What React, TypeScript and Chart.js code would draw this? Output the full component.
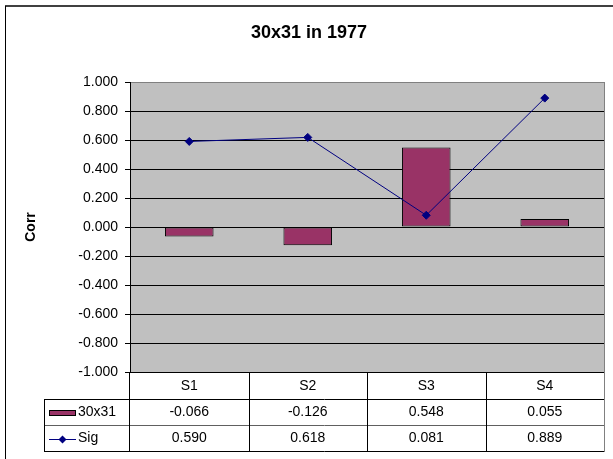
import React, { useEffect, useRef } from 'react';
import { Chart, registerables } from 'chart.js';

Chart.register(...registerables);

const chartTitle = '30x31 in 1977';
const yAxisTitle = 'Corr';
const categories = ['S1', 'S2', 'S3', 'S4'];
const seriesNames = ['30x31', 'Sig'];
const corrValues = [-0.066, -0.126, 0.548, 0.055];
const sigValues = [0.59, 0.618, 0.081, 0.889];
const yMin = -1;
const yMax = 1;
const yStep = 0.2;

const FONT = '"Liberation Sans", Arial, sans-serif';
const BAR_COLOR = '#993366';
const LINE_COLOR = '#000080';

const W = 613;
const H = 459;

const decorPlugin = {
  id: 'decor',
  beforeDraw(chart: any) {
    const { ctx, chartArea } = chart;
    ctx.save();
    ctx.fillStyle = '#ffffff';
    ctx.fillRect(0, 0, chart.width, chart.height);
    ctx.fillStyle = '#C0C0C0';
    ctx.fillRect(chartArea.left, chartArea.top, chartArea.right - chartArea.left, chartArea.bottom - chartArea.top);
    ctx.restore();
  },
  afterDraw(chart: any) {
    const { ctx, chartArea } = chart;
    const xs = chart.scales.x;
    ctx.save();

    // frame
    ctx.strokeStyle = '#404040';
    ctx.lineWidth = 2;
    ctx.beginPath();
    ctx.moveTo(5, 6);
    ctx.lineTo(W + 2, 6);
    ctx.stroke();
    ctx.strokeStyle = '#000';
    ctx.lineWidth = 1;
    ctx.beginPath();
    ctx.moveTo(5.5, 6);
    ctx.lineTo(5.5, H + 2);
    ctx.stroke();

    // plot border right
    ctx.strokeStyle = '#808080';
    ctx.beginPath();
    ctx.moveTo(chartArea.right + 0.5, chartArea.top);
    ctx.lineTo(chartArea.right + 0.5, chartArea.bottom);
    ctx.stroke();

    // title
    ctx.fillStyle = '#000';
    ctx.font = `bold 18px ${FONT}`;
    ctx.textAlign = 'center';
    ctx.textBaseline = 'middle';
    ctx.fillText(chartTitle, 309, 33);

    // y title
    ctx.save();
    ctx.translate(31, chartArea.top + (chartArea.bottom - chartArea.top) / 2);
    ctx.rotate(-Math.PI / 2);
    ctx.font = `bold 14px ${FONT}`;
    ctx.fillText(yAxisTitle, 0, 0);
    ctx.restore();

    // data table
    const n = categories.length;
    const colW = (chartArea.right - chartArea.left) / n;
    const rowH = 26;
    const t0 = chartArea.bottom;
    const r1 = t0 + 26.5;
    const r2 = r1 + rowH;
    const r3 = r2 + rowH;
    const labelLeft = 44;

    ctx.lineWidth = 1;
    const hline = (y: number, x1: number, x2: number, c = '#000') => {
      ctx.strokeStyle = c;
      ctx.beginPath();
      ctx.moveTo(x1, Math.round(y) + 0.5);
      ctx.lineTo(x2, Math.round(y) + 0.5);
      ctx.stroke();
    };
    const vline = (x: number, y1: number, y2: number, c = '#000') => {
      ctx.strokeStyle = c;
      ctx.beginPath();
      ctx.moveTo(Math.round(x) + 0.5, y1);
      ctx.lineTo(Math.round(x) + 0.5, y2);
      ctx.stroke();
    };
    hline(r1, labelLeft, chartArea.right + 1);
    hline(r2, labelLeft, chartArea.right + 1, '#606060');
    hline(r3, labelLeft, chartArea.right + 1);
    vline(labelLeft, Math.round(r1), Math.round(r3) + 1);
    for (let i = 0; i <= n; i++) {
      const x = chartArea.left + i * colW;
      vline(i === 0 ? x - 1 : x, t0, Math.round(r3) + 1, i === n ? '#808080' : '#000');
    }

    ctx.fillStyle = '#000';
    ctx.font = `14px ${FONT}`;
    ctx.textAlign = 'center';
    ctx.textBaseline = 'middle';
    for (let i = 0; i < n; i++) {
      const cx = xs.getPixelForValue(i);
      ctx.fillText(categories[i], cx, (t0 + r1) / 2 + 1);
      ctx.fillText(corrValues[i].toFixed(3), cx, (r1 + r2) / 2 + 1);
      ctx.fillText(sigValues[i].toFixed(3), cx, (r2 + r3) / 2 + 1);
    }

    // legend keys
    const kx1 = 49;
    const kx2 = 76;
    const y2c = (r1 + r2) / 2 + 1;
    const y3c = (r2 + r3) / 2 + 1;
    ctx.fillStyle = BAR_COLOR;
    ctx.fillRect(kx1, Math.round(y2c) - 3, kx2 - kx1, 6);
    ctx.strokeStyle = '#000';
    ctx.strokeRect(kx1 + 0.5, Math.round(y2c) - 2.5, kx2 - kx1 - 1, 5);
    ctx.strokeStyle = LINE_COLOR;
    ctx.beginPath();
    ctx.moveTo(kx1, Math.round(y3c) + 0.5);
    ctx.lineTo(kx2, Math.round(y3c) + 0.5);
    ctx.stroke();
    const mx = (kx1 + kx2) / 2;
    const my = Math.round(y3c) + 0.5;
    ctx.fillStyle = LINE_COLOR;
    ctx.beginPath();
    ctx.moveTo(mx - 4, my);
    ctx.lineTo(mx, my - 4);
    ctx.lineTo(mx + 4, my);
    ctx.lineTo(mx, my + 4);
    ctx.closePath();
    ctx.fill();

    ctx.fillStyle = '#000';
    ctx.textAlign = 'left';
    ctx.fillText(seriesNames[0], 78, y2c);
    ctx.fillText(seriesNames[1], 78, y3c);

    ctx.restore();
  },
};

export default function App() {
  const ref = useRef<HTMLCanvasElement | null>(null);

  useEffect(() => {
    if (!ref.current) return;
    const chart = new Chart(ref.current, {
      type: 'bar',
      data: {
        labels: categories,
        datasets: [
          {
            type: 'line',
            label: seriesNames[1],
            data: sigValues,
            borderColor: LINE_COLOR,
            backgroundColor: LINE_COLOR,
            borderWidth: 1,
            pointStyle: 'rectRot',
            pointRadius: 4,
            pointBorderWidth: 1,
            pointBackgroundColor: LINE_COLOR,
            pointBorderColor: LINE_COLOR,
            tension: 0,
            order: 0,
          } as any,
          {
            type: 'bar',
            label: seriesNames[0],
            data: corrValues,
            backgroundColor: BAR_COLOR,
            borderColor: '#000',
            borderWidth: 1,
            borderSkipped: false,
            categoryPercentage: 1,
            barPercentage: 0.41,
            order: 1,
          } as any,
        ],
      },
      options: {
        responsive: false,
        devicePixelRatio: 1,
        animation: false,
        layout: { padding: { top: 82, right: 9, bottom: 87, left: 0 } },
        plugins: {
          legend: { display: false },
          title: { display: false },
          tooltip: { enabled: false },
        },
        scales: {
          x: { display: false },
          y: {
            min: yMin,
            max: yMax,
            afterFit: (scale: any) => {
              scale.width = 130;
            },
            ticks: {
              stepSize: yStep,
              padding: 7,
              color: '#000',
              font: { family: FONT, size: 14 },
              callback: (v: any) => {
                const num = Number(v);
                return (Math.abs(num) < 1e-9 ? 0 : num).toFixed(3);
              },
            },
            grid: {
              color: (c: any) => (c.tick && Math.abs(c.tick.value - yMax) < 1e-9 ? '#808080' : '#000'),
              tickColor: '#000',
              tickLength: 5,
              lineWidth: 1,
            },
            border: { display: true, color: '#000', width: 1 },
          },
        },
      },
      plugins: [decorPlugin],
    });
    return () => chart.destroy();
  }, []);

  return (
    <div style={{ position: 'fixed', left: 0, top: 0, width: W, height: H }}>
      <canvas ref={ref} width={W} height={H} style={{ display: 'block', width: W, height: H }} />
    </div>
  );
}
